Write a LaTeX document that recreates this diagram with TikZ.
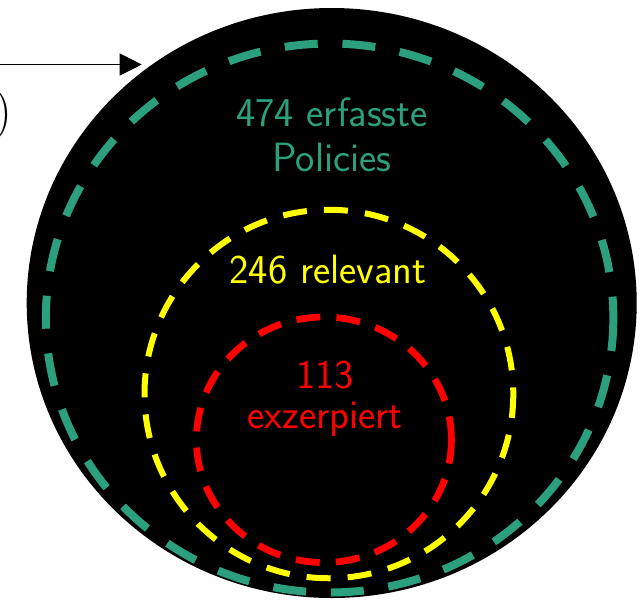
\documentclass[tikz,border=0pt]{standalone}
\usepackage{fontspec}
\usetikzlibrary{arrows.meta}
\definecolor{polgreen}{RGB}{44,160,126}
\definecolor{polyellow}{RGB}{255,255,0}
\definecolor{polred}{RGB}{255,0,0}
\tikzset{
  greenring/.style={draw=polgreen, line width=0.16cm, dash pattern=on 0.66cm off 0.4954cm},
  yellowring/.style={draw=polyellow, line width=0.12cm, dash pattern=on 0.48cm off 0.3428cm},
  redring/.style={draw=polred, line width=0.135cm, dash pattern=on 0.48cm off 0.3232cm},
  lbl/.style={font=\sffamily\fontsize{23.3}{25.6}\selectfont, align=center, inner sep=0pt, anchor=base},
}
\begin{document}
\begin{tikzpicture}[x=0.02cm, y=-0.02cm]
\useasboundingbox (0,0) rectangle (643,600);
% black disc
\fill[black] (331.7,303) ellipse[x radius=305, y radius=295];
% dashed rings
\draw[greenring] (329.6,318) ellipse[x radius=283.75, y radius=274.5];
\draw[yellowring] (328.9,394) ellipse[x radius=184.4, y radius=184.25];
\draw[redring] (323.9,439.75) ellipse[x radius=127.5, y radius=122.75];
% labels (base anchor = baseline of the last line)
\node[lbl, text=polgreen] (g) at (332,171.7) {474 erfasste\\Policies};
\node[lbl, text=polyellow] (y) at (328,283.3) {246 relevant};
\node[lbl, text=polred, font=\sffamily\fontsize{23.3}{22.8}\selectfont] (r) at (325,428.3) {113\\exzerpiert};
% arrow and cut label
\coordinate (s) at (-10,64.5);
\coordinate (t) at (141.7,64.5);
\draw[line width=0.02cm, -{Triangle[length=0.44cm, width=0.44cm]}] (s) -- (t);
\node[font=\fontsize{28.4}{30}\selectfont, inner sep=0pt, anchor=base east] (p) at (12.5,127) {)};
\end{tikzpicture}
\end{document}
